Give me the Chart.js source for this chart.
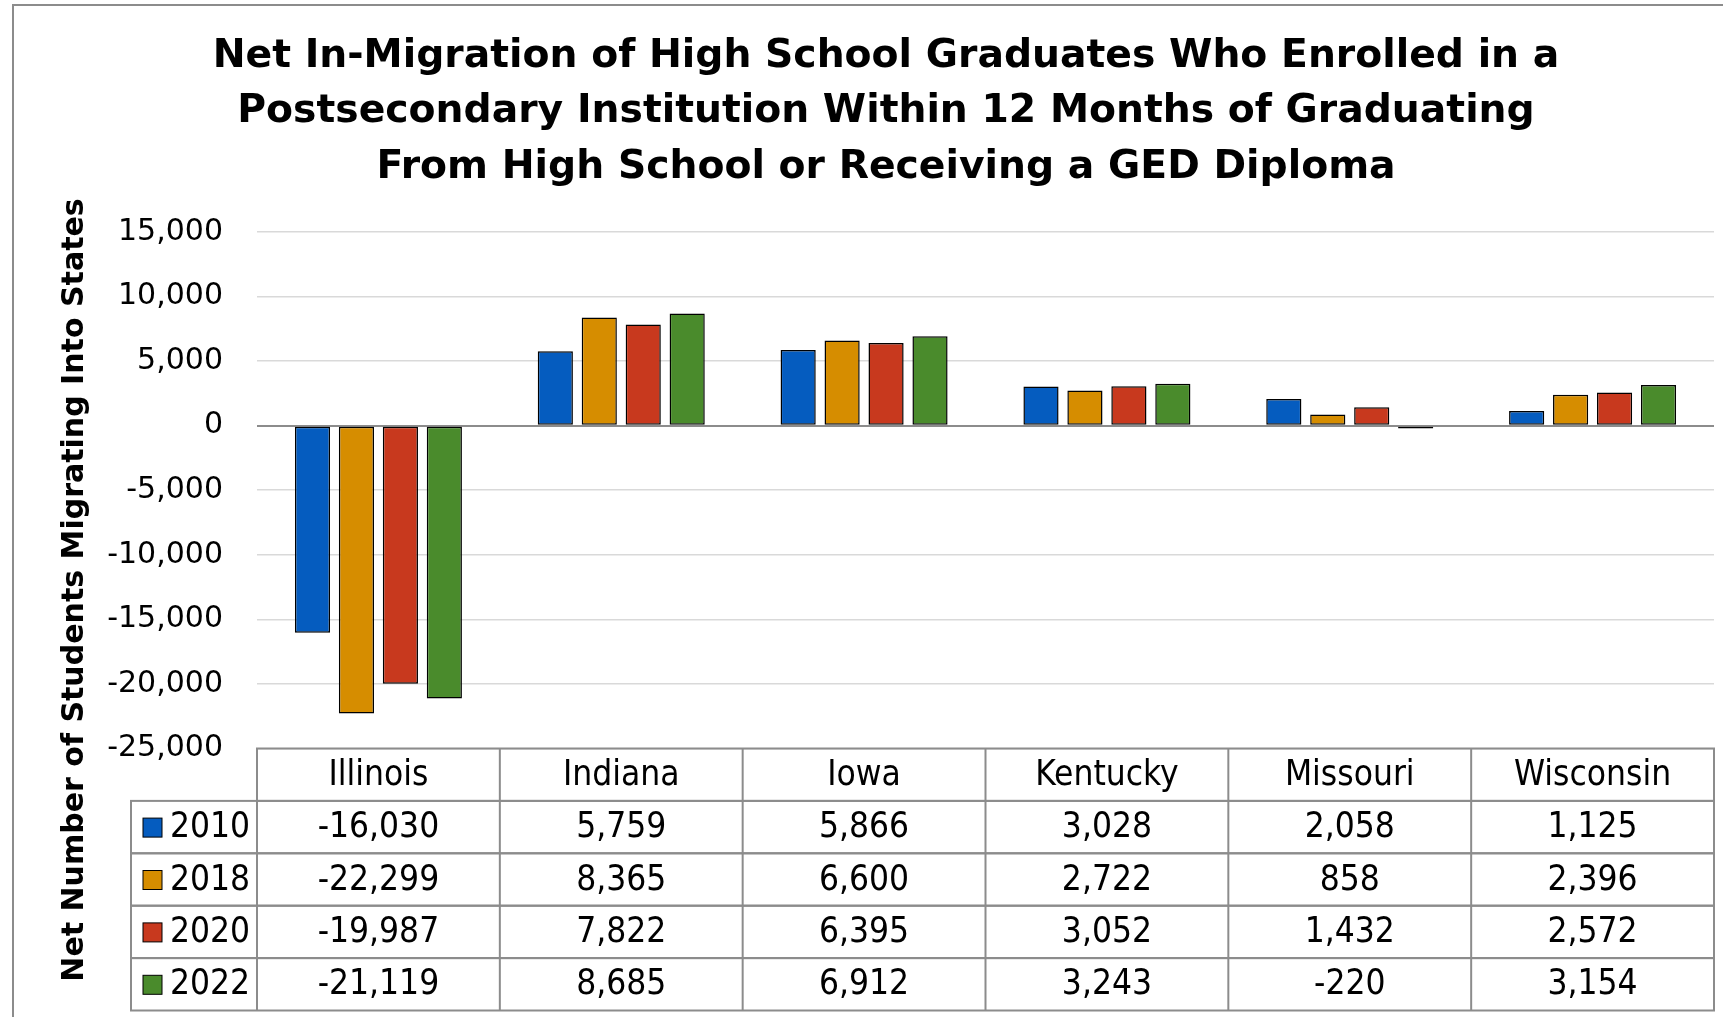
<!DOCTYPE html>
<html>
<head>
<meta charset="utf-8">
<script src="https://cdn.jsdelivr.net/npm/chart.js@4"></script>
<style>
  html, body { margin: 0; padding: 0; background: #fff; }
  #wrap { width: 1723px; height: 1017px; position: relative; }
</style>
</head>
<body>
<div id="wrap"><canvas id="migration"></canvas></div>
<script>
const states = ['Illinois', 'Indiana', 'Iowa', 'Kentucky', 'Missouri', 'Wisconsin'];
const years = ['2010', '2018', '2020', '2022'];
const net2010 = [-16030, 5759, 5866, 3028, 2058, 1125];
const net2018 = [-22299, 8365, 6600, 2722, 858, 2396];
const net2020 = [-19987, 7822, 6395, 3052, 1432, 2572];
const net2022 = [-21119, 8685, 6912, 3243, -220, 3154];
const yMin = -25000, yMax = 15000, yStep = 5000;
const colors = ['#055CBF', '#D68D00', '#C8391E', '#4A8B2C'];

const titleLines = [
  'Net In-Migration of High School Graduates Who Enrolled in a',
  'Postsecondary Institution Within 12 Months of Graduating',
  'From High School or Receiving a GED Diploma'
];
const yTitle = 'Net Number of Students Migrating Into States';

const series = [net2010, net2018, net2020, net2022];
const fmt = v => v.toLocaleString('en-US');

// frame, y title and the data table under the plot
const extras = {
  id: 'extras',
  beforeDraw(chart) {
    const c = chart.ctx;
    c.save();
    c.fillStyle = '#fff';
    c.fillRect(0, 0, chart.width, chart.height);
    c.strokeStyle = '#8c8c8c';
    c.lineWidth = 2;
    c.strokeRect(13, 5, chart.width + 20, chart.height + 20);
    c.restore();
  },
  afterDraw(chart) {
    const c = chart.ctx;
    const area = chart.chartArea;
    const xs = chart.scales.x;
    const colW = (area.right - area.left) / states.length;
    const rowH = 52.4;
    const legendLeft = 131;
    const top = area.bottom;

    c.save();
    // y axis title
    c.translate(75, 590);
    c.rotate(-Math.PI / 2);
    c.font = 'bold 30px "DejaVu Sans"';
    c.fillStyle = '#000';
    c.textAlign = 'center';
    c.textBaseline = 'middle';
    c.fillText(yTitle, 0, 0);
    c.restore();

    c.save();
    c.strokeStyle = '#8c8c8c';
    c.lineWidth = 2;
    // header row
    c.strokeRect(area.left, top, area.right - area.left, rowH);
    // series rows
    for (let r = 0; r < years.length; r++) {
      c.strokeRect(legendLeft, top + rowH * (r + 1), area.right - legendLeft, rowH);
    }
    // column lines
    for (let i = 0; i <= states.length; i++) {
      const x = area.left + colW * i;
      c.beginPath();
      c.moveTo(x, top);
      c.lineTo(x, top + rowH * (years.length + 1));
      c.stroke();
    }

    c.fillStyle = '#000';
    c.font = '35px "DejaVu Sans Condensed", "DejaVu Sans"';
    c.textAlign = 'center';
    c.textBaseline = 'middle';
    states.forEach((s, i) => {
      c.fillText(s, xs.getPixelForValue(i), top + rowH / 2 + 1);
    });
    series.forEach((vals, r) => {
      const cy = top + rowH * (r + 1.5) + 1;
      vals.forEach((v, i) => {
        c.fillText(fmt(v), xs.getPixelForValue(i), cy);
      });
      // legend key
      c.fillStyle = colors[r];
      c.fillRect(143, cy - 10, 19, 19);
      c.strokeStyle = '#000';
      c.lineWidth = 1;
      c.strokeRect(143, cy - 10, 19, 19);
      c.fillStyle = '#000';
      c.textAlign = 'left';
      c.fillText(years[r], 170, cy);
      c.textAlign = 'center';
    });
    c.restore();
  }
};

const ctx = document.getElementById('migration').getContext('2d');
const migrationChart = new Chart(ctx, {
  type: 'bar',
  data: {
    labels: states,
    datasets: years.map((yr, i) => ({
      label: yr,
      data: series[i],
      backgroundColor: colors[i],
      borderColor: '#000',
      borderWidth: 1.5,
      borderSkipped: false,
      categoryPercentage: 0.724,
      barPercentage: 0.8
    }))
  },
  options: {
    responsive: true,
    maintainAspectRatio: false,
    animation: false,
    devicePixelRatio: 1,
    layout: { padding: { left: 58, right: 9, top: 0, bottom: 268.5 } },
    plugins: {
      legend: { display: false },
      tooltip: { enabled: false },
      title: {
        display: true,
        text: titleLines,
        color: '#000',
        font: { family: '"DejaVu Sans"', size: 39.3, weight: 'bold', lineHeight: 1.42 },
        padding: { top: 28.5, bottom: 36 }
      }
    },
    scales: {
      x: { display: false },
      y: {
        min: yMin,
        max: yMax,
        afterFit(scale) { scale.width = 199; },
        border: { display: false },
        grid: {
          drawTicks: false,
          color: c => c.tick && c.tick.value === 0 ? '#8c8c8c' : '#d9d9d9',
          lineWidth: c => c.tick && c.tick.value === 0 ? 2 : 1.5
        },
        ticks: {
          stepSize: yStep,
          padding: 34,
          color: '#000',
          font: { family: '"DejaVu Sans"', size: 30 },
          callback: v => fmt(v)
        }
      }
    }
  },
  plugins: [extras]
});
</script>
</body>
</html>
